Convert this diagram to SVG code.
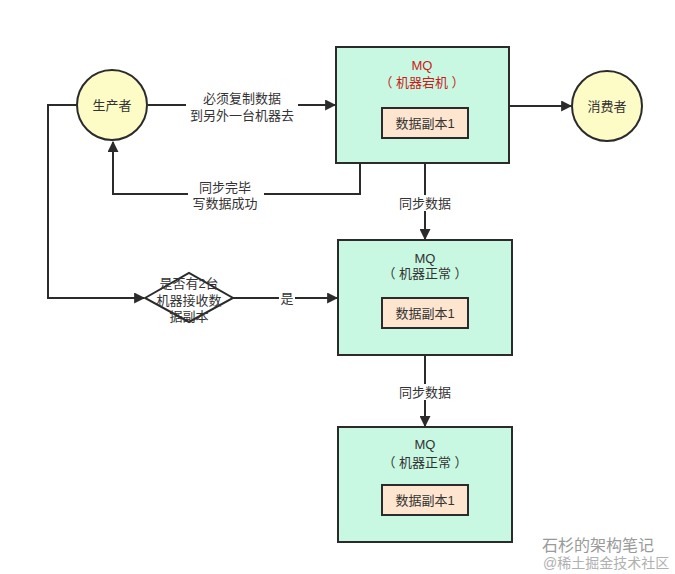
<svg xmlns="http://www.w3.org/2000/svg" width="675" height="574" viewBox="0 0 675 574">
<defs>
<marker id="ah" viewBox="0 0 10 10" refX="9" refY="5" markerWidth="11" markerHeight="11" markerUnits="userSpaceOnUse" orient="auto">
<path d="M0,0 L10,5 L0,10 z" fill="#2b2b2b"/>
</marker>
<style>
text{font-family:"Liberation Sans","Noto Sans CJK SC",sans-serif;font-size:13px;fill:#333;text-anchor:middle;dominant-baseline:central}
.circ{fill:#fdfbc6;stroke:#2b2b2b;stroke-width:2}
.mq{fill:#c8f8e1;stroke:#2b2b2b;stroke-width:2}
.inner{fill:#fde5cf;stroke:#2b2b2b;stroke-width:2}
.dia{fill:#fff;stroke:#2b2b2b;stroke-width:2}
.ln{fill:none;stroke:#2b2b2b;stroke-width:2}
.lbl{fill:#fff}
.red{fill:#cc1a1a}
.wm{fill:#9a9a9a;text-anchor:start}
</style>
</defs>
<rect width="675" height="574" fill="#fff"/>
<g id="connectors">
<path class="ln" d="M148,105 H335" marker-end="url(#ah)"/>
<rect class="lbl" x="186" y="89" width="112" height="34"/>
<text x="242" y="98">必须复制数据</text>
<text x="242" y="115">到另外一台机器去</text>
<path class="ln" d="M509,106 H571" marker-end="url(#ah)"/>
<path class="ln" d="M360,163 V194 H113 V142" marker-end="url(#ah)"/>
<rect class="lbl" x="188" y="179" width="76" height="32"/>
<text x="225" y="187">同步完毕</text>
<text x="225" y="203">写数据成功</text>
<path class="ln" d="M425,163 V239" marker-end="url(#ah)"/>
<rect class="lbl" x="396" y="195" width="58" height="16"/>
<text x="425" y="203">同步数据</text>
<path class="ln" d="M77,105 H48 V298 H144" marker-end="url(#ah)"/>
<path class="ln" d="M233,298 H337" marker-end="url(#ah)"/>
<rect class="lbl" x="279" y="290" width="16" height="16"/>
<text x="287" y="298">是</text>
<path class="ln" d="M425,355 V426" marker-end="url(#ah)"/>
<rect class="lbl" x="396" y="384" width="58" height="16"/>
<text x="425" y="392">同步数据</text>
</g>
<g id="producer">
<circle class="circ" cx="112" cy="105" r="35"/>
<text x="112" y="105">生产者</text>
</g>
<g id="consumer">
<circle class="circ" cx="607" cy="106" r="35"/>
<text x="607" y="106">消费者</text>
</g>
<g id="mq1">
<rect class="mq" x="336" y="47" width="173" height="116"/>
<text class="red" x="422" y="65">MQ</text>
<text class="red" x="422" y="82">（ 机器宕机 ）</text>
<rect class="inner" x="382" y="108" width="86" height="30"/>
<text x="425" y="123">数据副本1</text>
</g>
<g id="decision">
<path class="dia" d="M145,298 L189,273 L233,298 L189,322 Z"/>
<text x="189" y="283">是否有2台</text>
<text x="189" y="300">机器接收数</text>
<text x="189" y="316">据副本</text>
</g>
<g id="mq2">
<rect class="mq" x="338" y="240" width="174" height="115"/>
<text x="425" y="258">MQ</text>
<text x="425" y="273">（ 机器正常 ）</text>
<rect class="inner" x="382" y="298" width="86" height="30"/>
<text x="425" y="313">数据副本1</text>
</g>
<g id="mq3">
<rect class="mq" x="338" y="427" width="174" height="115"/>
<text x="425" y="444">MQ</text>
<text x="425" y="462">（ 机器正常 ）</text>
<rect class="inner" x="382" y="485" width="86" height="30"/>
<text x="425" y="500">数据副本1</text>
</g>
<g id="watermark">
<text class="wm" x="542" y="545" style="font-size:16px">石杉的架构笔记</text>
<text class="wm" x="543" y="563" style="font-size:14px;fill:#b0b0b0">@稀土掘金技术社区</text>
</g>
</svg>
